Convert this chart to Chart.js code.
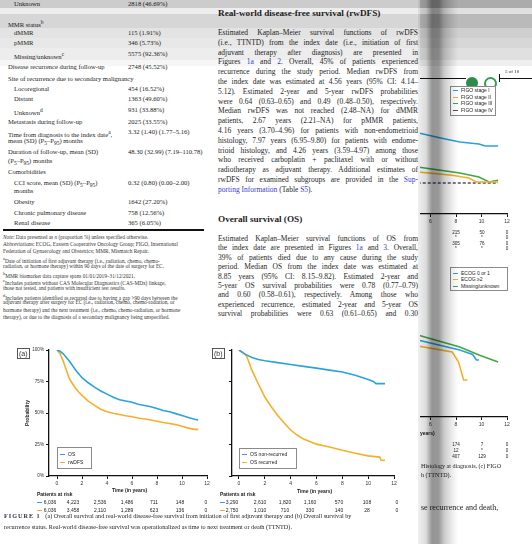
<!DOCTYPE html>
<html>
<head>
<meta charset="utf-8">
<title>Figure 1</title>
<script src="https://cdn.jsdelivr.net/npm/chart.js"></script>
<style>
  body { margin:0; width:532px; height:544px; overflow:hidden; background:#fff; position:relative; font-family:"Liberation Serif", serif; color:#1e1e1e; }
  .a { position:absolute; white-space:nowrap; }
  .tb { font-size:6.6px; line-height:8px; }
  .nt { font-size:5.3px; line-height:7px; color:#333; }
  .bd { font-size:7.5px; line-height:10px; width:200px; text-align:justify; text-align-last:justify; }
  .bd.last { text-align-last:left; }
  .hd { font-size:9.2px; line-height:12px; font-weight:bold; }
  .sans { font-family:"Liberation Sans", Arial, sans-serif; }
  .tk { font-size:5px; line-height:6px; color:#222; }
  .lk { color:#3a3ad0; }
  .lg { position:absolute; border:1px solid #8a8a8a; background:#fff; }
  .dash { display:inline-block; width:5px; height:1.4px; vertical-align:middle; margin-right:3px; }
  .pl { position:absolute; border:1.5px solid #555; font-family:"Liberation Sans",sans-serif; font-size:7px; line-height:9px; padding:0 1px; color:#333; }
  canvas { position:absolute; }
</style>
</head>
<body>

<canvas id="chartA" width="215" height="150" style="left:0;top:340px"></canvas>
<canvas id="chartB" width="190" height="150" style="left:215px;top:340px"></canvas>
<div id="strip" style="position:absolute;left:420px;top:0;width:112px;height:544px;overflow:hidden">
  <canvas id="chartC" width="190" height="148" style="left:-90px;top:80px"></canvas>
  <canvas id="chartD" width="190" height="148" style="left:-90px;top:283px"></canvas>
</div>

<script>
// ---- panel (a): OS and rwDFS from first adjuvant therapy
var yearsOsA = [0, 0.25, 0.5, 1, 1.5, 2, 2.5, 3, 3.5, 4, 4.5, 5, 5.5, 6, 6.5, 7, 7.5, 8, 8.5, 9, 9.5, 10, 10.5, 11, 11.3];
var osA      = [100, 99, 97, 91, 84, 78, 74, 70.5, 67.5, 65, 62.5, 60.5, 59.5, 58.5, 57, 56, 55, 53.5, 52, 51, 49.5, 48, 46.5, 45, 44.5];
var yearsDfsA = [0, 0.25, 0.5, 0.75, 1, 1.25, 1.5, 1.75, 2, 2.5, 3, 3.5, 4, 4.5, 5, 5.5, 6, 6.5, 7, 7.5, 8, 8.5, 9, 9.5, 10, 10.5, 11, 11.3];
var dfsA      = [100, 97, 91, 84, 77, 73, 69.5, 66.5, 64, 59.5, 56, 53, 51, 49.8, 48.8, 47.8, 47, 46, 45.2, 44.4, 43.5, 42.5, 41.7, 40.8, 39.5, 38, 37, 37];

// ---- panel (b): OS by recurrence status
var yearsNonRecB = [0, 0.5, 1, 1.5, 2, 3, 4, 5, 6, 7, 8, 9, 10, 10.4, 10.6, 11.3];
var osNonRecB    = [100, 96.5, 94, 92.5, 91.5, 90, 88.5, 87, 85.6, 84, 82.5, 80, 76.5, 75, 73.3, 73.3];
var yearsRecB = [0, 0.3, 0.6, 1, 1.5, 2, 2.5, 3, 3.5, 4, 4.5, 5, 6, 7, 8, 9, 10, 10.9, 11, 11.3];
var osRecB    = [100, 98, 95, 84, 73, 62.7, 55, 48, 42, 36.5, 32.5, 29.3, 25.3, 23, 20.5, 18, 16, 15, 12.5, 12.5];

var yearTicks = [0, 2, 4, 6, 8, 10, 12];
var probTicks = [0, 25, 50, 75, 100];
var riskOsA  = ['6,036', '4,223', '2,536', '1,486', '711', '148', '0'];
var riskDfsA = ['6,036', '3,458', '2,110', '1,289', '623', '136', '0'];
var riskNonRecB = ['3,290', '2,610', '1,820', '1,160', '570', '108', '0'];
var riskRecB    = ['2,750', '1,010', '710', '330', '140', '28', '0'];

// ---- right-hand page (partly visible): FIGO stage and ECOG panels
var yearsStageC = [5, 6.7, 8.3, 9.8, 10.3, 11.3];
var stageI      = [65, 61, 57.6, 56, 54.4, 54.4];
var yearsStage2C = [5, 7.7, 9, 9.6, 11.3];
var stageII      = [33.6, 31, 28.8, 25.6, 25.6];
var yearsStage3C = [5, 8.3, 9.8, 10.6, 11.3];
var stageIII     = [37.6, 32.8, 29.6, 25.6, 27];
var yearsStage4C = [5, 11.3];
var stageIV      = [24.8, 24.8];
var yearsEcogD  = [5, 8.3, 9.3, 9.6, 9.8];
var ecog01      = [61.6, 53.6, 50, 45.6, 45.6];
var yearsEcog2D = [5, 7.7, 8.2, 8.6, 8.9];
var ecog2       = [56.8, 52, 44, 29.6, 29.6];
var yearsMissD  = [5, 8.3, 9.8, 11.3];
var ecogMiss    = [65.6, 56, 49.6, 44];

var BLUE = '#2aa3dc', ORANGE = '#f3b12a', GREEN = '#43a843', PURPLE = '#5a4a6a';

function pts(xs, ys) {
  return xs.map(function (x, i) { return { x: x, y: ys[i] }; });
}

function makeKM(id, series, o) {
  var ctx = document.getElementById(id).getContext('2d');
  return new Chart(ctx, {
    type: 'line',
    data: {
      datasets: series.map(function (s) {
        return { data: s.data, borderColor: s.color, borderWidth: 1.6, borderDash: s.dash || [], pointRadius: 0, tension: 0, fill: false };
      })
    },
    options: {
      responsive: false, animation: false, devicePixelRatio: 1,
      layout: { padding: { left: 0, top: o.top, right: o.right, bottom: 0 } },
      plugins: { legend: { display: false }, tooltip: { enabled: false } },
      scales: {
        x: {
          type: 'linear', min: o.xmin, max: 12,
          afterBuildTicks: function (s) { s.ticks = yearTicks.map(function (v) { return { value: v }; }); },
          grid: { drawOnChartArea: false, drawTicks: true, tickLength: 3, color: '#111', lineWidth: 1 },
          border: { color: '#111', width: 1.3 },
          ticks: { font: { size: 5, family: 'Liberation Sans' }, color: '#333', padding: 2, maxRotation: 0 },
          afterFit: function (s) { s.height = 14; }
        },
        y: {
          min: 0, max: 100,
          afterBuildTicks: function (s) { s.ticks = probTicks.map(function (v) { return { value: v }; }); },
          grid: { drawOnChartArea: false, drawTicks: true, tickLength: 3, color: '#111', lineWidth: 1 },
          border: { color: '#111', width: 1.3 },
          ticks: { font: { size: 4.6, family: 'Liberation Sans' }, color: '#333', padding: 2,
                   callback: function (v) { return o.yLabels ? v + '%' : ''; } },
          afterFit: function (s) { s.width = o.yw; }
        }
      }
    }
  });
}

makeKM('chartA', [
  { data: pts(yearsOsA, osA), color: BLUE },
  { data: pts(yearsDfsA, dfsA), color: ORANGE }
], { top: 10, right: 8, xmin: -0.64, yw: 49, yLabels: true });

makeKM('chartB', [
  { data: pts(yearsNonRecB, osNonRecB), color: BLUE },
  { data: pts(yearsRecB, osRecB), color: ORANGE }
], { top: 10, right: 11, xmin: -0.54, yw: 17, yLabels: false });

makeKM('chartC', [
  { data: pts(yearsStageC, stageI), color: BLUE },
  { data: pts(yearsStage2C, stageII), color: ORANGE },
  { data: pts(yearsStage3C, stageIII), color: GREEN },
  { data: pts(yearsStage4C, stageIV), color: PURPLE, dash: [3, 2] }
], { top: 9, right: 13, xmin: 0, yw: 24, yLabels: false });

makeKM('chartD', [
  { data: pts(yearsEcogD, ecog01), color: BLUE },
  { data: pts(yearsEcog2D, ecog2), color: ORANGE },
  { data: pts(yearsMissD, ecogMiss), color: GREEN }
], { top: 9, right: 13, xmin: 0, yw: 24, yLabels: false });

// ---------- text of the page
function put(html, x, y, cls, lh, extra) {
  var d = document.createElement('div');
  d.className = 'a ' + cls;
  d.innerHTML = html;
  d.style.left = x + 'px';
  d.style.top = (y - lh / 2) + 'px';
  if (extra) Object.assign(d.style, extra);
  document.body.appendChild(d);
  return d;
}

// table rows: [label, value, y, indent]
var tableRows = [
  ['Unknown', '2818 (46.69%)', 4, 1],
  ['MMR status<sup>b</sup>', '', 22, 0],
  ['dMMR', '115 (1.91%)', 33, 1],
  ['pMMR', '346 (5.73%)', 43, 1],
  ['Missing/unknown<sup>c</sup>', '5575 (92.36%)', 54, 1],
  ['Disease recurrence during follow-up', '2748 (45.52%)', 67, 0],
  ['Site of recurrence due to secondary malignancy', '', 79, 0],
  ['Locoregional', '454 (16.52%)', 89, 1],
  ['Distant', '1363 (49.60%)', 99, 1],
  ['Unknown<sup>d</sup>', '931 (33.88%)', 110, 1],
  ['Metastasis during follow-up', '2025 (33.55%)', 122, 0],
  ['Time from diagnosis to the index date<sup>a</sup>,', '3.32 (1.40) (1.77–5.16)', 132, 0],
  ['mean (SD) (P<sub>5</sub>–P<sub>95</sub>) months', '', 141, 0],
  ['Duration of follow-up, mean (SD)', '48.30 (32.99) (7.19–110.78)', 152, 0],
  ['(P<sub>5</sub>–P<sub>95</sub>) months', '', 161, 0],
  ['Comorbidities', '', 172, 0],
  ['CCI score, mean (SD) (P<sub>5</sub>–P<sub>95</sub>)', '0.32 (0.80) (0.00–2.00)', 183, 1],
  ['months', '', 191, 1],
  ['Obesity', '1642 (27.20%)', 202, 1],
  ['Chronic pulmonary disease', '758 (12.56%)', 213, 1],
  ['Renal disease', '365 (6.05%)', 223, 1]
];
tableRows.forEach(function (r) {
  put(r[0], r[3] ? 14 : 8, r[2], 'tb', 8);
  if (r[1]) put(r[1], 128, r[2], 'tb', 8);
});

var noteLines = [
  '<i>Note</i>: Data presented as <i>n</i> (proportion %) unless specified otherwise.',
  'Abbreviations: ECOG, Eastern Cooperative Oncology Group; FIGO, International',
  'Federation of Gynaecology and Obstetrics; MMR, Mismatch Repair.',
  '<sup>a</sup>Date of initiation of first adjuvant therapy (i.e., radiation, chemo, chemo-',
  'radiation, or hormone therapy) within 90 days of the date of surgery for EC.',
  '<sup>b</sup>MMR biomarker data capture spans 01/01/2019–31/12/2021.',
  '<sup>c</sup>Includes patients without CAS Molecular Diagnostics (CAS-MDx) linkage,',
  'those not tested, and patients with insufficient test results.',
  '<sup>d</sup>Includes patients identified as recurred due to having a gap &gt;90 days between the',
  'adjuvant therapy after surgery for EC (i.e., radiation, chemo, chemo-radiation, or',
  'hormone therapy) and the next treatment (i.e., chemo, chemo-radiation, or hormone',
  'therapy), or due to the diagnosis of a secondary malignancy being unspecified.'
];
noteLines.forEach(function (t, i) { put(t, 3, 237 + i * 7.3, 'nt', 7); });

put('Real-world disease-free survival (rwDFS)', 218, 13, 'hd', 12);
var para1 = [
  'Estimated Kaplan–Meier survival functions of rwDFS',
  '(i.e., TTNTD) from the index date (i.e., initiation of first',
  'adjuvant therapy after diagnosis) are presented in',
  'Figures <span class="lk">1a</span> and <span class="lk">2</span>. Overall, 45% of patients experienced',
  'recurrence during the study period. Median rwDFS from',
  'the index date was estimated at 4.56 years (95% CI: 4.14–',
  '5.12). Estimated 2-year and 5-year rwDFS probabilities',
  'were 0.64 (0.63–0.65) and 0.49 (0.48–0.50), respectively.',
  'Median rwDFS was not reached (2.48–NA) for dMMR',
  'patients, 2.67 years (2.21–NA) for pMMR patients,',
  '4.16 years (3.70–4.96) for patients with non-endometrioid',
  'histology, 7.97 years (6.95–9.80) for patients with endome-',
  'trioid histology, and 4.26 years (3.59–4.97) among those',
  'who received carboplatin + paclitaxel with or without',
  'radiotherapy as adjuvant therapy. Additional estimates of',
  'rwDFS for examined subgroups are provided in the <span class="lk">Sup-</span>',
  '<span class="lk">porting Information</span> (Table <span class="lk">S5</span>).'
];
para1.forEach(function (t, i) { put(t, 218, 33 + i * 9.8, 'bd' + (i === para1.length - 1 ? ' last' : ''), 10); });

put('Overall survival (OS)', 218, 219, 'hd', 12);
var para2 = [
  'Estimated Kaplan–Meier survival functions of OS from',
  'the index date are presented in Figures <span class="lk">1a</span> and <span class="lk">3</span>. Overall,',
  '39% of patients died due to any cause during the study',
  'period. Median OS from the index date was estimated at',
  '8.85 years (95% CI: 8.15–9.82). Estimated 2-year and',
  '5-year OS survival probabilities were 0.78 (0.77–0.79)',
  'and 0.60 (0.58–0.61), respectively. Among those who',
  'experienced recurrence, estimated 2-year and 5-year OS',
  'survival probabilities were 0.63 (0.61–0.65) and 0.30'
];
para2.forEach(function (t, i) { put(t, 218, 239 + i * 9.4, 'bd', 10); });

// table rule
put('', 3, 228.5, '', 0, { width: '201px', height: '0', borderTop: '2.2px solid #111' });

// panel labels, axis titles, legends
put('(a)', 17, 352, 'pl', 9);
put('(b)', 212, 352, 'pl', 9);
put('Probability', 27, 413, 'sans tk', 6, { transform: 'translate(-50%,0) rotate(-90deg)', fontWeight: 'bold' });
put('Time (in years)', 112, 490, 'sans tk', 6, { fontWeight: 'bold' });
put('Time (in years)', 297, 491, 'sans tk', 6, { fontWeight: 'bold' });

function legend(x, y, w, h, items, rowY) {
  put('', x, y, 'lg', 0, { width: w + 'px', height: h + 'px' });
  items.forEach(function (it, i) {
    put('<span class="dash" style="background:' + it[1] + '"></span>' + it[0], x + 3, rowY[i], 'sans tk', 6);
  });
}
legend(57, 447, 33, 20, [['OS', BLUE], ['rwDFS', ORANGE]], [454, 462]);
legend(239, 448, 56, 19, [['OS non-recurred', BLUE], ['OS recurred', ORANGE]], [454, 462]);

function riskTable(x0, y0, xs, rows) {
  put('Patients at risk', x0, y0, 'sans tk', 6, { fontWeight: 'bold' });
  rows.forEach(function (r, j) {
    put('', x0, y0 + 8 + j * 8, '', 0, { width: '5px', height: '1.4px', background: r.color });
    r.vals.forEach(function (v, i) {
      put(v, xs[i], y0 + 8 + j * 8, 'sans tk', 6, { transform: 'translateX(-50%)' });
    });
  });
}
riskTable(37, 494, [50, 73, 100, 127, 154, 180, 206], [{ color: BLUE, vals: riskOsA }, { color: ORANGE, vals: riskDfsA }]);
riskTable(220, 494, [232, 260, 285, 310, 339, 367, 397], [{ color: BLUE, vals: riskNonRecB }, { color: ORANGE, vals: riskRecB }]);

put('<b style="letter-spacing:1px;color:#334">FIGURE 1</b>&nbsp;&nbsp;&nbsp;(a) Overall survival and real-world disease-free survival from initiation of first adjuvant therapy and (b) Overall survival by', 4, 516, '', 8, { fontSize: '6.2px' });
put('recurrence status. Real-world disease-free survival was operationalized as time to next treatment or death (TTNTD).', 4, 527, '', 8, { fontSize: '6.2px' });

// right-hand page fragment
put('', 420, 78, '', 0, { width: '46px', borderTop: '1px solid #111' });
put('', 499, 78, '', 0, { width: '33px', borderTop: '1px solid #111' });
put('', 499, 74, '', 0, { width: '0', height: '8px', borderLeft: '1px solid #111' });
put('', 466, 77, '', 0, { width: '12px', height: '12px', borderRadius: '50%', background: '#2e8b4a' });
put('', 484, 77, '', 0, { width: '9px', height: '9px', borderRadius: '50%', border: '2px solid #3a9a56' });
put('5 of 10', 505, 72, 'tk', 6);
legend(450, 86, 44, 28, [['FIGO stage I', BLUE], ['FIGO stage II', ORANGE], ['FIGO stage III', GREEN], ['FIGO stage IV', PURPLE]], [90, 97, 103, 110]);
legend(450, 267, 56, 22, [['ECOG 0 or 1', BLUE], ['ECOG ≥2', ORANGE], ['Missing/unknown', GREEN]], [273, 279, 286]);
var riskC = [['215', '50', '0'], ['*', '*', '0'], ['305', '76', '0'], ['*', '*', '0']];
var riskD = [['174', '7', '0'], ['12', '*', '0'], ['407', '129', '0']];
riskC.forEach(function (r, j) { r.forEach(function (v, i) { put(v, [456, 482, 507][i], 233 + j * 5.4, 'sans tk', 6, { transform: 'translateX(-50%)', fontSize: '4.6px' }); }); });
riskD.forEach(function (r, j) { r.forEach(function (v, i) { put(v, [456, 482, 507][i], 445 + j * 6, 'sans tk', 6, { transform: 'translateX(-50%)', fontSize: '4.6px' }); }); });
put('years)', 420, 433, 'sans tk', 6, { fontWeight: 'bold' });
put('Histology at diagnosis, (c) FIGO', 421, 467, '', 8, { fontSize: '6.1px' });
put('h (TTNTD).', 421, 476, '', 8, { fontSize: '6.1px' });
put('se recurrence and death,', 421, 508, '', 10, { fontSize: '8px' });

// scan shading: top stripes, darker over the right page, and the page-edge band
var stripes = [[0, 8, 0.2], [8, 14, 0.07], [14, 28, 0.16], [28, 38, 0.11], [38, 48, 0.09], [48, 60, 0.07], [60, 66, 0.035]];
stripes.forEach(function (s) {
  put('', 0, s[0], '', 0, { width: '532px', height: (s[1] - s[0]) + 'px', background: 'rgba(0,0,0,' + s[2] + ')' });
  put('', 420, s[0], '', 0, { width: '112px', height: (s[1] - s[0]) + 'px', background: 'rgba(0,0,0,' + (s[2] * 0.8) + ')' });
});
put('', 418, 0, '', 0, { width: '40px', height: '544px',
  background: 'linear-gradient(to right, rgba(0,0,0,0.06) 0%, rgba(0,0,0,0.14) 20%, rgba(0,0,0,0.42) 35%, rgba(0,0,0,0.4) 52%, rgba(0,0,0,0.2) 66%, rgba(0,0,0,0.08) 85%, rgba(0,0,0,0) 100%)' });
</script>
</body>
</html>
